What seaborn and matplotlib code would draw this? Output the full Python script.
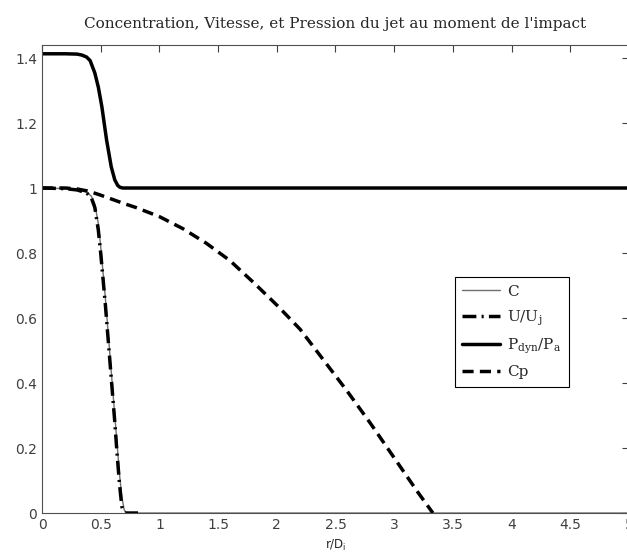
import numpy as np
import pandas as pd
import matplotlib
matplotlib.use("Agg")
import matplotlib.pyplot as plt
import seaborn as sns
from matplotlib.ticker import FuncFormatter, MultipleLocator

# --- data ---
r_p = [0.0, 0.2, 0.3, 0.34, 0.38, 0.41, 0.45, 0.48, 0.51, 0.55, 0.59, 0.62, 0.645, 0.665, 0.69, 1.0, 2.0, 3.0, 4.0, 5.0]
pdyn = [1.413, 1.413, 1.412, 1.409, 1.403, 1.392, 1.354, 1.31, 1.25, 1.148, 1.065, 1.025, 1.008, 1.002, 1.0, 1.0, 1.0, 1.0, 1.0, 1.0]

r_u = [0.0, 0.2, 0.3, 0.38, 0.42, 0.45, 0.48, 0.5, 0.52, 0.54, 0.56, 0.58, 0.6, 0.62, 0.64, 0.66, 0.68, 0.7, 0.84]
uuj = [1.0, 0.998, 0.994, 0.985, 0.97, 0.94, 0.87, 0.8, 0.72, 0.64, 0.55, 0.46, 0.37, 0.28, 0.18, 0.09, 0.02, 0.0, 0.0]

r_c = [0.0, 0.2, 0.3, 0.38, 0.42, 0.45, 0.48, 0.5, 0.52, 0.54, 0.56, 0.58, 0.6, 0.62, 0.64, 0.66, 0.68, 0.7, 0.72, 5.0]
conc = [1.0, 0.998, 0.995, 0.987, 0.975, 0.95, 0.89, 0.82, 0.74, 0.66, 0.57, 0.48, 0.39, 0.3, 0.21, 0.12, 0.05, 0.01, 0.0, 0.0]

r_cp = [0.0, 0.2, 0.3, 0.4, 0.5, 0.6, 0.7, 0.8, 0.9, 1.0, 1.2, 1.4, 1.6, 1.8, 2.0, 2.2, 2.4, 2.6, 2.8, 3.0, 3.2, 3.33]
cp = [1.0, 1.0, 0.997, 0.99, 0.978, 0.965, 0.952, 0.94, 0.926, 0.912, 0.875, 0.83, 0.777, 0.71, 0.64, 0.565, 0.47, 0.375, 0.275, 0.17, 0.065, 0.0]

title = "Concentration, Vitesse, et Pression du jet au moment de l'impact"
labels = ["C", r"U/U$_\mathregular{j}$", r"P$_\mathregular{dyn}$/P$_\mathregular{a}$", "Cp"]

sns.set_style("white")
plt.rcParams["font.family"] = ["DejaVu Sans"]

fig = plt.figure(figsize=(6.27, 5.53), dpi=100)
ax = fig.add_axes([0.067, 0.0723, 0.936, 0.8463])

sns.lineplot(x=r_c, y=conc, ax=ax, color="#707070", lw=1.0, label=labels[0], sort=False)
sns.lineplot(x=r_u, y=uuj, ax=ax, color="black", lw=2.5, label=labels[1], sort=False,
             linestyle=(0, (4, 1.5, 0.6, 1.5)))
sns.lineplot(x=r_p, y=pdyn, ax=ax, color="black", lw=2.5, label=labels[2], sort=False)
sns.lineplot(x=r_cp, y=cp, ax=ax, color="black", lw=2.5, label=labels[3], sort=False,
             linestyle=(0, (3.2, 1.8)))

ax.set_xlim(0, 5)
ax.set_ylim(0, 1.44)
ax.xaxis.set_major_locator(MultipleLocator(0.5))
ax.yaxis.set_major_locator(MultipleLocator(0.2))
fmt = FuncFormatter(lambda v, p: f"{v:g}")
ax.xaxis.set_major_formatter(fmt)
ax.yaxis.set_major_formatter(fmt)
ax.tick_params(direction="in", top=True, right=True, length=5, width=0.8,
               colors="#404040", labelsize=10, labelcolor="#404040")
for s in ax.spines.values():
    s.set_color("#505050")
    s.set_linewidth(0.8)

ax.set_title(title, family=["DejaVu Serif"], fontsize=11, pad=12)
ax.set_xlabel(r"r/D$_\mathregular{i}$", fontsize=8.5, labelpad=4)

leg = ax.legend(loc="upper left", bbox_to_anchor=(0.703, 0.504), frameon=True,
                fancybox=False, edgecolor="black", framealpha=1,
                prop={"family": "DejaVu Serif", "size": 11},
                handlelength=2.5, handletextpad=0.45, labelspacing=0.6,
                borderpad=0.5, borderaxespad=0)
leg.get_frame().set_linewidth(0.8)

fig.savefig("out.png", dpi=100)
